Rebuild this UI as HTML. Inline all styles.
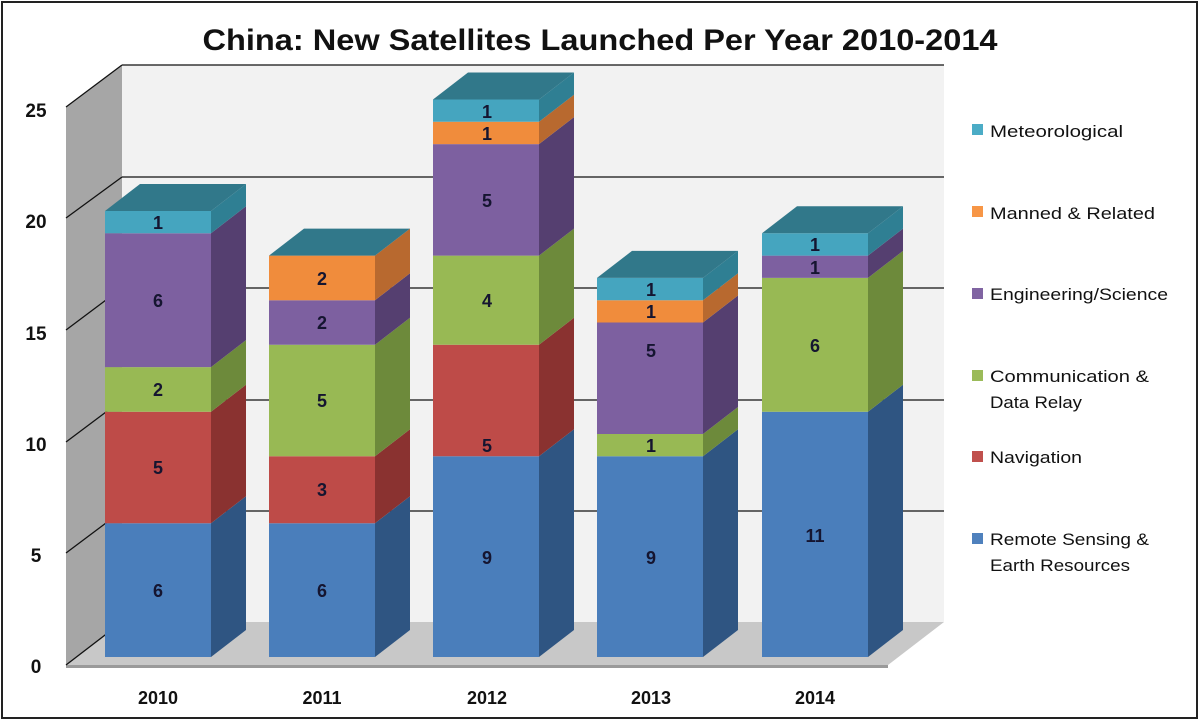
<!DOCTYPE html>
<html><head><meta charset="utf-8"><style>
html,body{margin:0;padding:0;background:#fff;}
svg{display:block;font-family:"Liberation Sans",sans-serif;}
</style></head><body>
<svg id="s" width="1200" height="721" viewBox="0 0 1200 721" xmlns="http://www.w3.org/2000/svg">
<rect x="2" y="2" width="1195" height="716" fill="#fff" stroke="#222" stroke-width="2"/>
<text x="600" y="50" text-anchor="middle" font-size="30" font-weight="bold" fill="#111" textLength="795" lengthAdjust="spacingAndGlyphs">China: New Satellites Launched Per Year 2010-2014</text>
<!-- back wall -->
<polygon points="122,65 944,65 944,622 122,622" fill="#f2f2f2"/>
<!-- left wall -->
<polygon points="66,107 122,65 122,622 66,665" fill="#a6a6a6"/>
<!-- floor -->
<polygon points="66,665 122,622 944,622 888,665" fill="#c8c8c8"/>
<polygon points="66,665 888,665 888,668 66,668" fill="#9a9a9a"/>
<g stroke="#111" stroke-width="1.3">
<line x1="122" y1="65" x2="944" y2="65"/>
<line x1="122" y1="177" x2="944" y2="177"/>
<line x1="122" y1="288" x2="944" y2="288"/>
<line x1="122" y1="400" x2="944" y2="400"/>
<line x1="122" y1="511" x2="944" y2="511"/>
<line x1="66" y1="107" x2="122" y2="65"/>
<line x1="66" y1="218" x2="122" y2="177"/>
<line x1="66" y1="330" x2="122" y2="288"/>
<line x1="66" y1="442" x2="122" y2="400"/>
<line x1="66" y1="553" x2="122" y2="511"/>
<line x1="66" y1="665" x2="122" y2="622"/>
</g>
<g id="bars"></g>
<g font-size="19" font-weight="bold" fill="#111" text-anchor="middle">
<text x="36" y="117">25</text><text x="36" y="228">20</text><text x="36" y="340">15</text>
<text x="36" y="451">10</text><text x="36" y="562">5</text><text x="36" y="673">0</text>
</g>
<g font-size="18" font-weight="bold" fill="#111" text-anchor="middle">
<text x="158" y="704">2010</text><text x="322" y="704">2011</text><text x="487" y="704">2012</text>
<text x="651" y="704">2013</text><text x="815" y="704">2014</text>
</g>
<g id="labels" font-size="18" font-weight="bold" fill="#151530" text-anchor="middle">
<text x="158" y="597">6</text><text x="158" y="474">5</text><text x="158" y="396">2</text><text x="158" y="307">6</text><text x="158" y="229">1</text>
<text x="322" y="597">6</text><text x="322" y="496">3</text><text x="322" y="407">5</text><text x="322" y="329">2</text><text x="322" y="285">2</text>
<text x="487" y="564">9</text><text x="487" y="452">5</text><text x="487" y="307">4</text><text x="487" y="207">5</text><text x="487" y="140">1</text><text x="487" y="118">1</text>
<text x="651" y="564">9</text><text x="651" y="452">1</text><text x="651" y="357">5</text><text x="651" y="318">1</text><text x="651" y="296">1</text>
<text x="815" y="542">11</text><text x="815" y="352">6</text><text x="815" y="274">1</text><text x="815" y="251">1</text>
</g>
<g font-size="17" fill="#111">
<rect x="972" y="124" width="11" height="11" fill="#4bacc6"/><text x="990" y="137" textLength="133" lengthAdjust="spacingAndGlyphs">Meteorological</text>
<rect x="972" y="206" width="11" height="11" fill="#f79646"/><text x="990" y="219" textLength="165" lengthAdjust="spacingAndGlyphs">Manned &amp; Related</text>
<rect x="972" y="288" width="11" height="11" fill="#8064a2"/><text x="990" y="300" textLength="178" lengthAdjust="spacingAndGlyphs">Engineering/Science</text>
<rect x="972" y="370" width="11" height="11" fill="#9bbb59"/><text x="990" y="382" textLength="159" lengthAdjust="spacingAndGlyphs">Communication &amp;</text>
<text x="990" y="408" textLength="92" lengthAdjust="spacingAndGlyphs">Data Relay</text>
<rect x="972" y="451" width="11" height="11" fill="#c0504d"/><text x="990" y="463" textLength="92" lengthAdjust="spacingAndGlyphs">Navigation</text>
<rect x="972" y="533" width="11" height="11" fill="#4f81bd"/><text x="990" y="545" textLength="159" lengthAdjust="spacingAndGlyphs">Remote Sensing &amp;</text>
<text x="990" y="571" textLength="140" lengthAdjust="spacingAndGlyphs">Earth Resources</text>
</g>
</svg>
<script>
(function(){
var g=document.getElementById('bars');
var X=[105,269,433,597,762],W=106,DX=35,DY=-27,k=22.3,B=657;
var data=[[6,5,2,6,0,1],[6,3,5,2,2,0],[9,5,4,5,1,1],[9,0,1,5,1,1],[11,0,6,1,0,1]];
var front=['#4a7ebb','#be4b48','#98b954','#7d60a0','#f08c3c','#45a5bf'];
var side=['#2f5582','#8a3230','#6d8a3b','#553f70','#b8692f','#2f7f93'];
var top='#31788a';
var ns='http://www.w3.org/2000/svg';
function poly(p,f){var e=document.createElementNS(ns,'polygon');e.setAttribute('points',p);e.setAttribute('fill',f);g.appendChild(e);}
data.forEach(function(d,i){
 var x=X[i],c=0;
 d.forEach(function(v,j){
  if(!v)return;
  var y0=B-c*k,y1=B-(c+v)*k;
  poly(x+','+y1+' '+(x+W)+','+y1+' '+(x+W)+','+y0+' '+x+','+y0,front[j]);
  poly((x+W)+','+y1+' '+(x+W+DX)+','+(y1+DY)+' '+(x+W+DX)+','+(y0+DY)+' '+(x+W)+','+y0,side[j]);
  c+=v;
 });
 var yt=B-c*k;
 poly(x+','+yt+' '+(x+DX)+','+(yt+DY)+' '+(x+W+DX)+','+(yt+DY)+' '+(x+W)+','+yt,top);
});
})();
</script>
</body></html>
